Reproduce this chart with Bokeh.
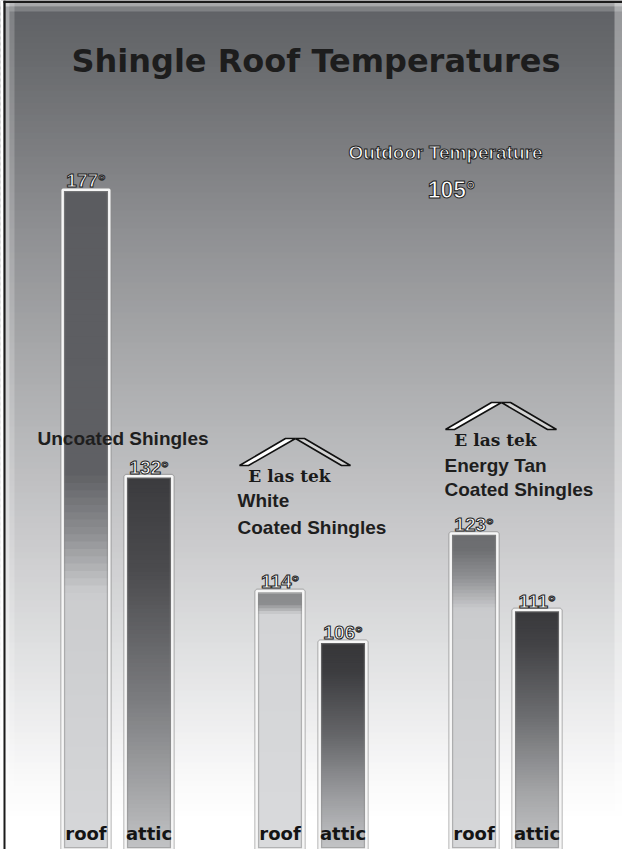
from bokeh.plotting import figure
from bokeh.models import (FactorRange, Range1d, ColumnDataSource, Label,
                          BoxAnnotation, PolyAnnotation)
from bokeh.embed import file_html
from bokeh.resources import INLINE
from bokeh.core.properties import value

# ---------------- data ----------------
title = "Shingle Roof Temperatures"
groups = ["Uncoated Shingles", "White Coated Shingles", "Energy Tan Coated Shingles"]
kinds = ["roof", "attic"]
roof_temps = [177, 114, 123]
attic_temps = [132, 106, 111]
outdoor_label = "Outdoor Temperature"
outdoor_temp = 105
brand = "E las tek"

# ---------------- layout helpers ----------------
W, H = 622, 849
Y0, Y1 = 73.4, 206.7          # value range shown bottom..top of the frame
PX = H / (Y1 - Y0)


def yv(ref_y):
    """row of the reference picture -> value on the y scale"""
    return Y0 + (H + 8 - ref_y) / PX


def sx(ref_x):
    return ref_x - 8


def hex2rgb(h):
    h = h.lstrip('#')
    return [int(h[i:i + 2], 16) for i in (0, 2, 4)]


def interp(stops, t):
    for (t0, c0), (t1, c1) in zip(stops, stops[1:]):
        if t <= t1:
            f = 0 if t1 == t0 else (t - t0) / (t1 - t0)
            a, b = hex2rgb(c0), hex2rgb(c1)
            return "#%02x%02x%02x" % tuple(round(a[i] + (b[i] - a[i]) * f) for i in range(3))
    return stops[-1][1]


factors = [(g, k) for g in groups for k in kinds]
temps = []
for r, a in zip(roof_temps, attic_temps):
    temps += [r, a]

p = figure(width=W, height=H,
           x_range=FactorRange(*factors, factor_padding=0, group_padding=1.08,
                               range_padding=0.857, range_padding_units="absolute"),
           y_range=Range1d(Y0, Y1),
           output_backend="svg", toolbar_location=None,
           x_axis_location=None, y_axis_location=None,
           min_border=0, background_fill_color="white",
           border_fill_color="white", outline_line_color=None)
p.grid.visible = False

# ---------------- background gradient ----------------
bg_stops = [(8, "#5f6165"), (60, "#67696c"), (150, "#7b7c7f"), (250, "#919295"),
            (350, "#a5a6a8"), (450, "#b8b9bb"), (550, "#cbcbcd"), (650, "#dedfe0"),
            (730, "#eeeeef"), (790, "#fafafa"), (830, "#ffffff"), (860, "#ffffff")]
step = 6
yy = 8
while yy < 857:
    col = interp(bg_stops, yy + step / 2)
    p.add_layout(BoxAnnotation(top=yv(yy), bottom=yv(min(yy + step + 3, 860)),
                               fill_color=col, fill_alpha=1, line_alpha=0,
                               level="underlay"))
    yy += step

# inner light edges (vignette)
p.add_layout(BoxAnnotation(left=5, right=9, left_units="screen", right_units="screen",
                           fill_color="white", fill_alpha=0.45, line_alpha=0, level="underlay"))
p.add_layout(BoxAnnotation(left=9, right=14, left_units="screen", right_units="screen",
                           fill_color="white", fill_alpha=0.2, line_alpha=0, level="underlay"))
p.add_layout(BoxAnnotation(top=yv(10), bottom=yv(14), left=5, left_units="screen",
                           fill_color="white", fill_alpha=0.45, line_alpha=0, level="underlay"))
p.add_layout(BoxAnnotation(top=yv(14), bottom=yv(19), left=9, left_units="screen",
                           fill_color="white", fill_alpha=0.2, line_alpha=0, level="underlay"))
p.add_layout(BoxAnnotation(left=614, left_units="screen",
                           fill_color="white", fill_alpha=0.35, line_alpha=0, level="underlay"))
# white margin and black frame lines
p.add_layout(BoxAnnotation(left=0, right=3, left_units="screen", right_units="screen",
                           fill_color="white", fill_alpha=1, line_alpha=0, level="underlay"))
p.add_layout(BoxAnnotation(left=3, right=5, left_units="screen", right_units="screen",
                           fill_color="#1b1b1b", fill_alpha=1, line_alpha=0, level="underlay"))
p.add_layout(BoxAnnotation(left=3, left_units="screen", top=yv(8), bottom=yv(10.5),
                           fill_color="#1b1b1b", fill_alpha=1, line_alpha=0, level="underlay"))

# ---------------- bars with gradient fills ----------------
bar_styles = [
    [(0, "#5b5c60"), (0.43, "#5f6064"), (0.52, "#8d8e91"), (0.61, "#cbccce"), (1, "#d6d7d9")],
    [(0, "#3b3b3e"), (0.25, "#4b4b4e"), (0.6, "#7b7c7f"), (0.85, "#a6a7a9"), (1, "#c2c3c5")],
    [(0, "#cfd0d2"), (0.015, "#8a8b8d"), (0.05, "#8c8d8f"), (0.09, "#d3d4d6"), (1, "#d9dadc")],
    [(0, "#363638"), (0.15, "#3d3d40"), (0.45, "#656669"), (0.75, "#9c9da0"), (1, "#c4c5c7")],
    [(0, "#6b6c6f"), (0.05, "#6e6f72"), (0.14, "#909194"), (0.24, "#cacbcd"), (1, "#d6d7d9")],
    [(0, "#38383b"), (0.15, "#434346"), (0.45, "#6d6e71"), (0.75, "#a2a3a5"), (1, "#c4c5c7")],
]
N = 90
seg = dict(x=[], top=[], bottom=[], color=[])
for f, tv, st in zip(factors, temps, bar_styles):
    h = (tv - Y0) / N
    for k in range(N):
        seg["x"].append(f)
        seg["top"].append(tv - k * h)
        seg["bottom"].append(max(Y0, tv - (k + 1.6) * h))
        seg["color"].append(interp(st, (k + 0.5) / N))
p.vbar(x="x", top="top", bottom="bottom", width=0.74, fill_color="color",
       line_color=None, source=ColumnDataSource(seg))

bars = ColumnDataSource(dict(x=factors, top=temps, bottom=[Y0] * len(temps)))
p.vbar(x="x", top="top", bottom="bottom", width=0.74, source=bars,
       fill_alpha=0, line_color="#8a8a8a", line_alpha=0.5, line_width=5)
p.vbar(x="x", top="top", bottom="bottom", width=0.74, source=bars,
       fill_alpha=0, line_color="#f6f6f6", line_width=2.5)


# ---------------- texts ----------------
def add_text(**kw):
    try:
        p.text(**kw)
    except Exception:
        kw.pop("text_outline_color", None)
        p.text(**kw)


def add_label(**kw):
    try:
        lab = Label(**kw)
    except Exception:
        kw.pop("text_outline_color", None)
        lab = Label(**kw)
    p.add_layout(lab)


vals = ColumnDataSource(dict(x=factors, y=temps, t=["%d°" % v for v in temps]))
add_text(x="x", y="y", text="t", source=vals, text_align="center",
         text_baseline="alphabetic", y_offset=-9,
         text_font=value("Liberation Sans"), text_font_style="bold",
         text_font_size="19px", text_color="white", text_outline_color="#222222")

kind_src = ColumnDataSource(dict(x=factors, y=[Y0] * len(factors), t=[k for _, k in factors]))
p.text(x="x", y="y", text="t", source=kind_src, text_align="center",
       text_baseline="alphabetic", y_offset=-16,
       text_font=value("DejaVu Sans"), text_font_style="bold",
       text_font_size="18px", text_color="#141414")

add_label(x=sx(323.5), y=yv(68), x_units="screen", text=title, text_align="center",
          text_baseline="alphabetic", text_font="DejaVu Sans", text_font_style="bold",
          text_font_size="32px", text_color="#1d1d1d")

add_label(x=sx(453), y=yv(160), x_units="screen", text=outdoor_label, text_align="center",
          text_baseline="middle", text_font="Liberation Sans", text_font_style="bold",
          text_font_size="19px", text_color="white", text_outline_color="#222222")
add_label(x=sx(459), y=yv(197), x_units="screen", text="%d°" % outdoor_temp,
          text_align="center", text_baseline="middle", text_font="Liberation Sans",
          text_font_style="bold", text_font_size="23px", text_color="white",
          text_outline_color="#222222")

group_lines = [
    [(groups[0], 45, 446)],
    [("White", 245, 508), ("Coated Shingles", 245, 535)],
    [("Energy Tan", 452, 473), ("Coated Shingles", 452, 497)],
]
for lines in group_lines:
    for txt, lx, ly in lines:
        add_label(x=sx(lx), y=yv(ly), x_units="screen", text=txt, text_align="left",
                  text_baseline="middle", text_font="Liberation Sans",
                  text_font_style="bold", text_font_size="19px", text_color="#1e1e1e")

# brand logos (roof outline + name)
for dx, dy in [(0, 0), (206, -36)]:
    left_band = [(247, 473), (293, 446), (303, 446), (256, 473)]
    right_band = [(303, 446), (312, 446), (358, 473), (349, 473)]
    for band, fc in [(left_band, "white"), (right_band, "#d4d4d4")]:
        p.add_layout(PolyAnnotation(xs=[sx(x + dx) for x, _ in band],
                                    ys=[yv(y + dy) for _, y in band],
                                    xs_units="screen", ys_units="data",
                                    fill_color=fc, fill_alpha=1,
                                    line_color="#111111", line_alpha=1, line_width=1.6))
    add_label(x=sx(297 + dx), y=yv(483 + dy), x_units="screen", text=brand,
              text_align="center", text_baseline="middle", text_font="DejaVu Serif",
              text_font_style="bold", text_font_size="17px", text_color="#1a1a1a")

open("out.html", "w").write(file_html(p, INLINE))
